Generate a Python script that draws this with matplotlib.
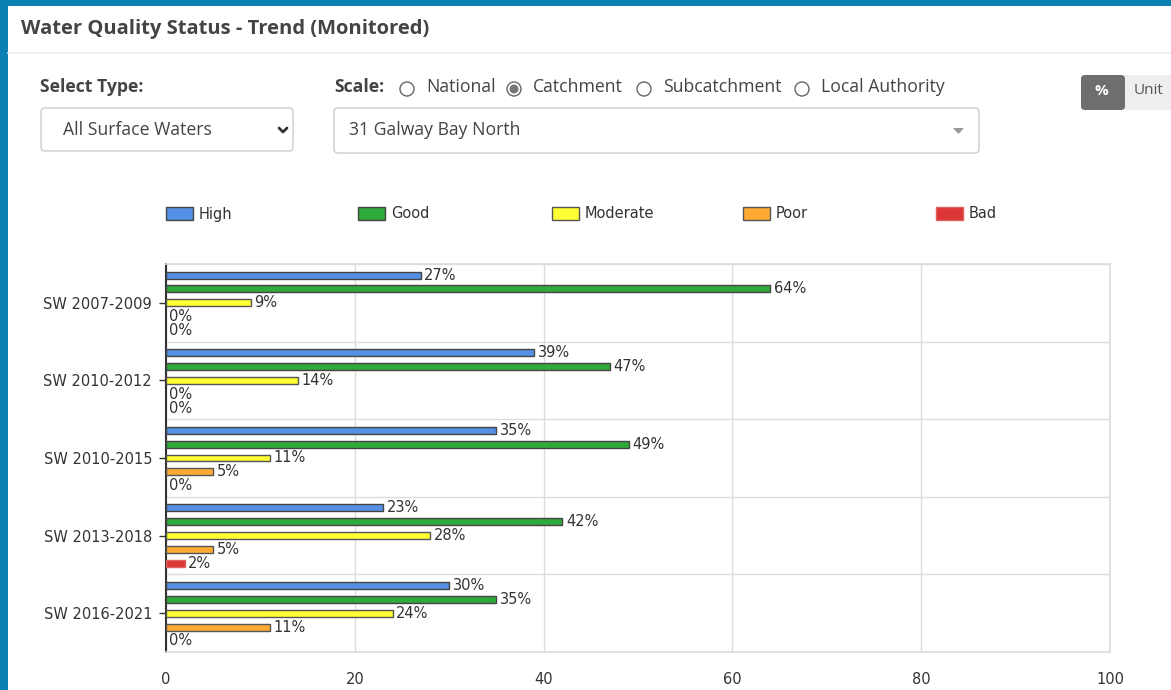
import matplotlib
matplotlib.use("Agg")
import matplotlib.pyplot as plt
from matplotlib.patches import Rectangle, FancyBboxPatch, Circle, Polygon
import numpy as np

# ---------------- data ----------------
periods = ["SW 2007-2009", "SW 2010-2012", "SW 2010-2015", "SW 2013-2018", "SW 2016-2021"]
statuses = ["High", "Good", "Moderate", "Poor", "Bad"]
high = [27, 39, 35, 23, 30]
good = [64, 47, 49, 42, 35]
moderate = [9, 14, 11, 28, 24]
poor = [0, 0, 5, 5, 11]
bad = [0, 0, 0, 2, 0]
colors = ["#5590e4", "#2fab3b", "#ffff33", "#ffaa33", "#dd3636"]
edges = ["#444444", "#444444", "#555555", "#555555", "#e06060"]
xticks = [0, 20, 40, 60, 80, 100]

title = "Water Quality Status - Trend (Monitored)"
scale_opts = ["National", "Catchment", "Subcatchment", "Local Authority"]

W, H = 1171, 690
fig = plt.figure(figsize=(W / 100, H / 100), dpi=100)
fig.patch.set_facecolor("white")

UI = ["Open Sans", "DejaVu Sans"]
CH = ["DejaVu Sans"]
UFS = 12.7

# ---------------- UI overlay ----------------
ui = fig.add_axes([0, 0, 1, 1])
ui.set_xlim(0, W)
ui.set_ylim(H, 0)
ui.axis("off")

ui.add_patch(Rectangle((0, 0), W, H, facecolor="#0b80b3", edgecolor="none"))
ui.add_patch(Rectangle((8, 6), W - 8, H - 6, facecolor="white", edgecolor="none"))
ui.plot([8, W], [53, 53], color="#eceef4", lw=1.2)
ui.text(21, 29, title, fontsize=14.5, fontweight="bold", color="#444444",
        va="center", ha="left", family=UI)

ui.text(40, 87, "Select Type:", fontsize=UFS, fontweight="bold", color="#444444",
        va="center", ha="left", family=UI)
ui.add_patch(FancyBboxPatch((41, 108), 252, 43, boxstyle="round,pad=0,rounding_size=4",
                            facecolor="white", edgecolor="#cccccc", lw=1))
ui.text(63, 130, "All Surface Waters", fontsize=UFS, color="#444444",
        va="center", ha="left", family=UI)
ui.plot([279, 283, 287], [128, 132, 128], color="#333333", lw=2, solid_capstyle="round")

ui.text(334, 87, "Scale:", fontsize=UFS, fontweight="bold", color="#444444",
        va="center", ha="left", family=UI)
radio_x = [407, 514, 644, 802]
for i, (rx, lab) in enumerate(zip(radio_x, scale_opts)):
    ui.add_patch(Circle((rx, 89), 7, facecolor="white", edgecolor="#666666", lw=1))
    if lab == "Catchment":
        ui.add_patch(Circle((rx, 89), 4.5, facecolor="#777777", edgecolor="none"))
    ui.text(rx + 19, 87, lab, fontsize=UFS, color="#444444", va="center", ha="left", family=UI)

ui.add_patch(FancyBboxPatch((334, 108), 645, 45, boxstyle="round,pad=0,rounding_size=4",
                            facecolor="white", edgecolor="#cccccc", lw=1))
ui.text(349, 130, "31 Galway Bay North", fontsize=UFS, color="#444444",
        va="center", ha="left", family=UI)
ui.add_patch(Polygon([[953, 128], [964, 128], [958.5, 134]], closed=True,
                     facecolor="#999999", edgecolor="none"))

ui.add_patch(FancyBboxPatch((1122, 75), 60, 35, boxstyle="round,pad=0,rounding_size=4",
                            facecolor="#eeeeee", edgecolor="none"))
ui.add_patch(FancyBboxPatch((1081, 75), 44, 35, boxstyle="round,pad=0,rounding_size=4",
                            facecolor="#6e6e6e", edgecolor="none"))
ui.add_patch(Rectangle((1115, 75), 7, 35, facecolor="#6e6e6e", edgecolor="none"))
ui.text(1101, 91, "%", fontsize=11, fontweight="bold", color="white",
        va="center", ha="center", family=UI)
ui.text(1134, 91, "Unit", fontsize=11, color="#555555", va="center", ha="left", family=UI)

# legend (manual, to match spacing)
leg_x = [166, 358, 552, 743, 936]
for lx, lab, c, e in zip(leg_x, statuses, colors, edges):
    ui.add_patch(Rectangle((lx, 207), 27, 13, facecolor=c, edgecolor=e, lw=1))
    ui.text(lx + 33, 214, lab, fontsize=10.5, color="#333333", va="center", ha="left", family=CH)

# ---------------- chart ----------------
ax = fig.add_axes([166 / W, 1 - 652 / H, (1110 - 166) / W, (652 - 264) / H])
series = [high, good, moderate, poor, bad]
y = np.arange(len(periods))
step = 0.178
bh = 0.09
for i, (vals, c, e) in enumerate(zip(series, colors, edges)):
    pos = y + (i - 2) * step
    bars = ax.barh(pos, vals, height=bh, color=c, edgecolor=e, linewidth=1, zorder=3)
    for b, p, v in zip(bars, pos, vals):
        if v == 0:
            b.set_visible(False)
        ax.annotate(f"{v}%", xy=(v, p), xytext=(2.5, 0), textcoords="offset points",
                    va="center", ha="left", fontsize=10.5, color="#333333", family=CH,
                    zorder=4)

ax.set_xlim(0, 100)
ax.set_ylim(len(periods) - 0.5, -0.5)
ax.set_yticks(y)
ax.set_yticklabels(periods, family=CH, fontsize=10.5, color="#333333")
ax.set_yticks(np.arange(len(periods) + 1) - 0.5, minor=True)
ax.set_xticks(xticks)
ax.set_xticklabels([str(t) for t in xticks], family=CH, fontsize=10.5, color="#333333")
ax.tick_params(axis="x", length=0, pad=14.5)
ax.tick_params(axis="y", which="major", length=5, width=1, color="#333333", pad=5)
ax.tick_params(axis="y", which="minor", length=0)
ax.grid(axis="x", which="major", color="#dddddd", lw=1, zorder=0)
ax.grid(axis="y", which="minor", color="#dddddd", lw=1, zorder=0)
ax.grid(axis="y", which="major", visible=False)
for s in ["top", "right", "bottom"]:
    ax.spines[s].set_color("#dddddd")
    ax.spines[s].set_linewidth(1.2)
ax.spines["left"].set_color("#333333")
ax.spines["left"].set_linewidth(1.5)
ax.set_facecolor("white")

fig.savefig("out.png", dpi=100)
